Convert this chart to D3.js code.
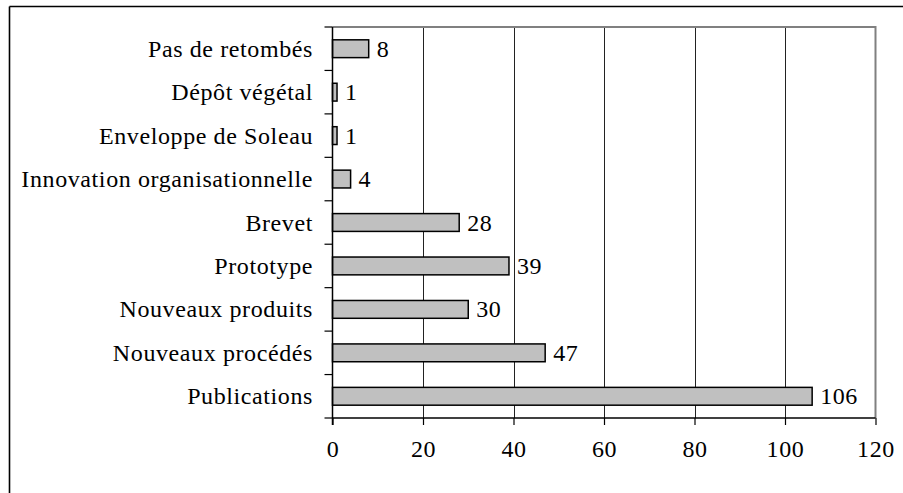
<!DOCTYPE html>
<html>
<head>
<meta charset="utf-8">
<script src="https://cdn.jsdelivr.net/npm/d3@7"></script>
<style>
  html, body { margin: 0; padding: 0; background: #fff; }
  svg { display: block; }
</style>
</head>
<body>
<svg id="chart" width="903" height="493"></svg>
<script>
// Retombées des projets : nombre de cas par type
const categories = [
  "Pas de retombés",
  "Dépôt végétal",
  "Enveloppe de Soleau",
  "Innovation organisationnelle",
  "Brevet",
  "Prototype",
  "Nouveaux produits",
  "Nouveaux procédés",
  "Publications"
];
const values = [8, 1, 1, 4, 28, 39, 30, 47, 106];
const xTicks = [0, 20, 40, 60, 80, 100, 120];

const svg = d3.select("#chart");
const W = 903, H = 493;
const plot = { left: 332.5, right: 875.5, top: 27, bottom: 418 };
const fontSize = 24;

function styleText(sel) {
  return sel.style("font-family", "'Liberation Serif'")
    .style("font-size", fontSize + "px")
    .style("letter-spacing", "0.6px")
    .attr("fill", "#000");
}

// Outer frame (top and left edges)
svg.append("line").attr("x1", 9.5).attr("x2", W).attr("y1", 6.5).attr("y2", 6.5)
  .attr("stroke", "#000").attr("stroke-width", 1.6);
svg.append("line").attr("x1", 9.5).attr("x2", 9.5).attr("y1", 6.5).attr("y2", H)
  .attr("stroke", "#000").attr("stroke-width", 1.6);

const x = d3.scaleLinear().domain([0, 120]).range([plot.left, plot.right]);
const y = d3.scaleBand().domain(categories).range([plot.top, plot.bottom]).padding(0);
const barH = y.bandwidth() * 0.41;
const mid = d => y(d) + y.bandwidth() / 2;

// Vertical gridlines
svg.append("g").selectAll("line")
  .data(xTicks.filter(t => t > 0 && t < 120))
  .join("line")
  .attr("x1", d => Math.round(x(d)) + 0.5).attr("x2", d => Math.round(x(d)) + 0.5)
  .attr("y1", plot.top).attr("y2", plot.bottom)
  .attr("stroke", "#222").attr("stroke-width", 1);

// Plot border (top and right, grey)
svg.append("path")
  .attr("d", `M${plot.left},${plot.top}H${plot.right}V${plot.bottom}`)
  .attr("fill", "none").attr("stroke", "#808080").attr("stroke-width", 2);

// Bars
svg.append("g").selectAll("rect")
  .data(categories)
  .join("rect")
  .attr("x", x(0))
  .attr("y", d => mid(d) - barH / 2)
  .attr("width", (d, i) => x(values[i]) - x(0))
  .attr("height", barH)
  .attr("fill", "#c0c0c0")
  .attr("stroke", "#000")
  .attr("stroke-width", 1.5);

// Value labels
svg.append("g").selectAll("text")
  .data(categories)
  .join("text")
  .attr("x", (d, i) => x(values[i]) + 8)
  .attr("y", d => mid(d) + 8)
  .call(styleText)
  .text((d, i) => values[i]);

// Bottom axis
const xAxis = d3.axisBottom(x).tickValues(xTicks).tickSize(7).tickPadding(15).tickFormat(d3.format("d"));
const gx = svg.append("g").attr("transform", `translate(0,${plot.bottom})`).call(xAxis);
gx.select(".domain").attr("stroke", "#000").attr("stroke-width", 1.5)
  .attr("d", `M${plot.left},0H${plot.right}`);
gx.selectAll(".tick line").attr("stroke", "#000").attr("stroke-width", 1.2);
gx.selectAll(".tick text").call(styleText);

// Left axis: ticks at category boundaries, labels centred in bands
const gy = svg.append("g");
gy.append("line").attr("x1", plot.left).attr("x2", plot.left)
  .attr("y1", plot.top).attr("y2", plot.bottom + 7)
  .attr("stroke", "#000").attr("stroke-width", 1.5);
const bounds = categories.map(c => y(c)).concat([plot.bottom]);
gy.selectAll("line.b").data(bounds).join("line").attr("class", "b")
  .attr("x1", plot.left - 8).attr("x2", plot.left)
  .attr("y1", d => d).attr("y2", d => d)
  .attr("stroke", "#000").attr("stroke-width", 1.2);
gy.selectAll("text").data(categories).join("text")
  .attr("x", plot.left - 19.5)
  .attr("y", d => mid(d) + 8)
  .attr("text-anchor", "end")
  .call(styleText)
  .text(d => d);
</script>
</body>
</html>
